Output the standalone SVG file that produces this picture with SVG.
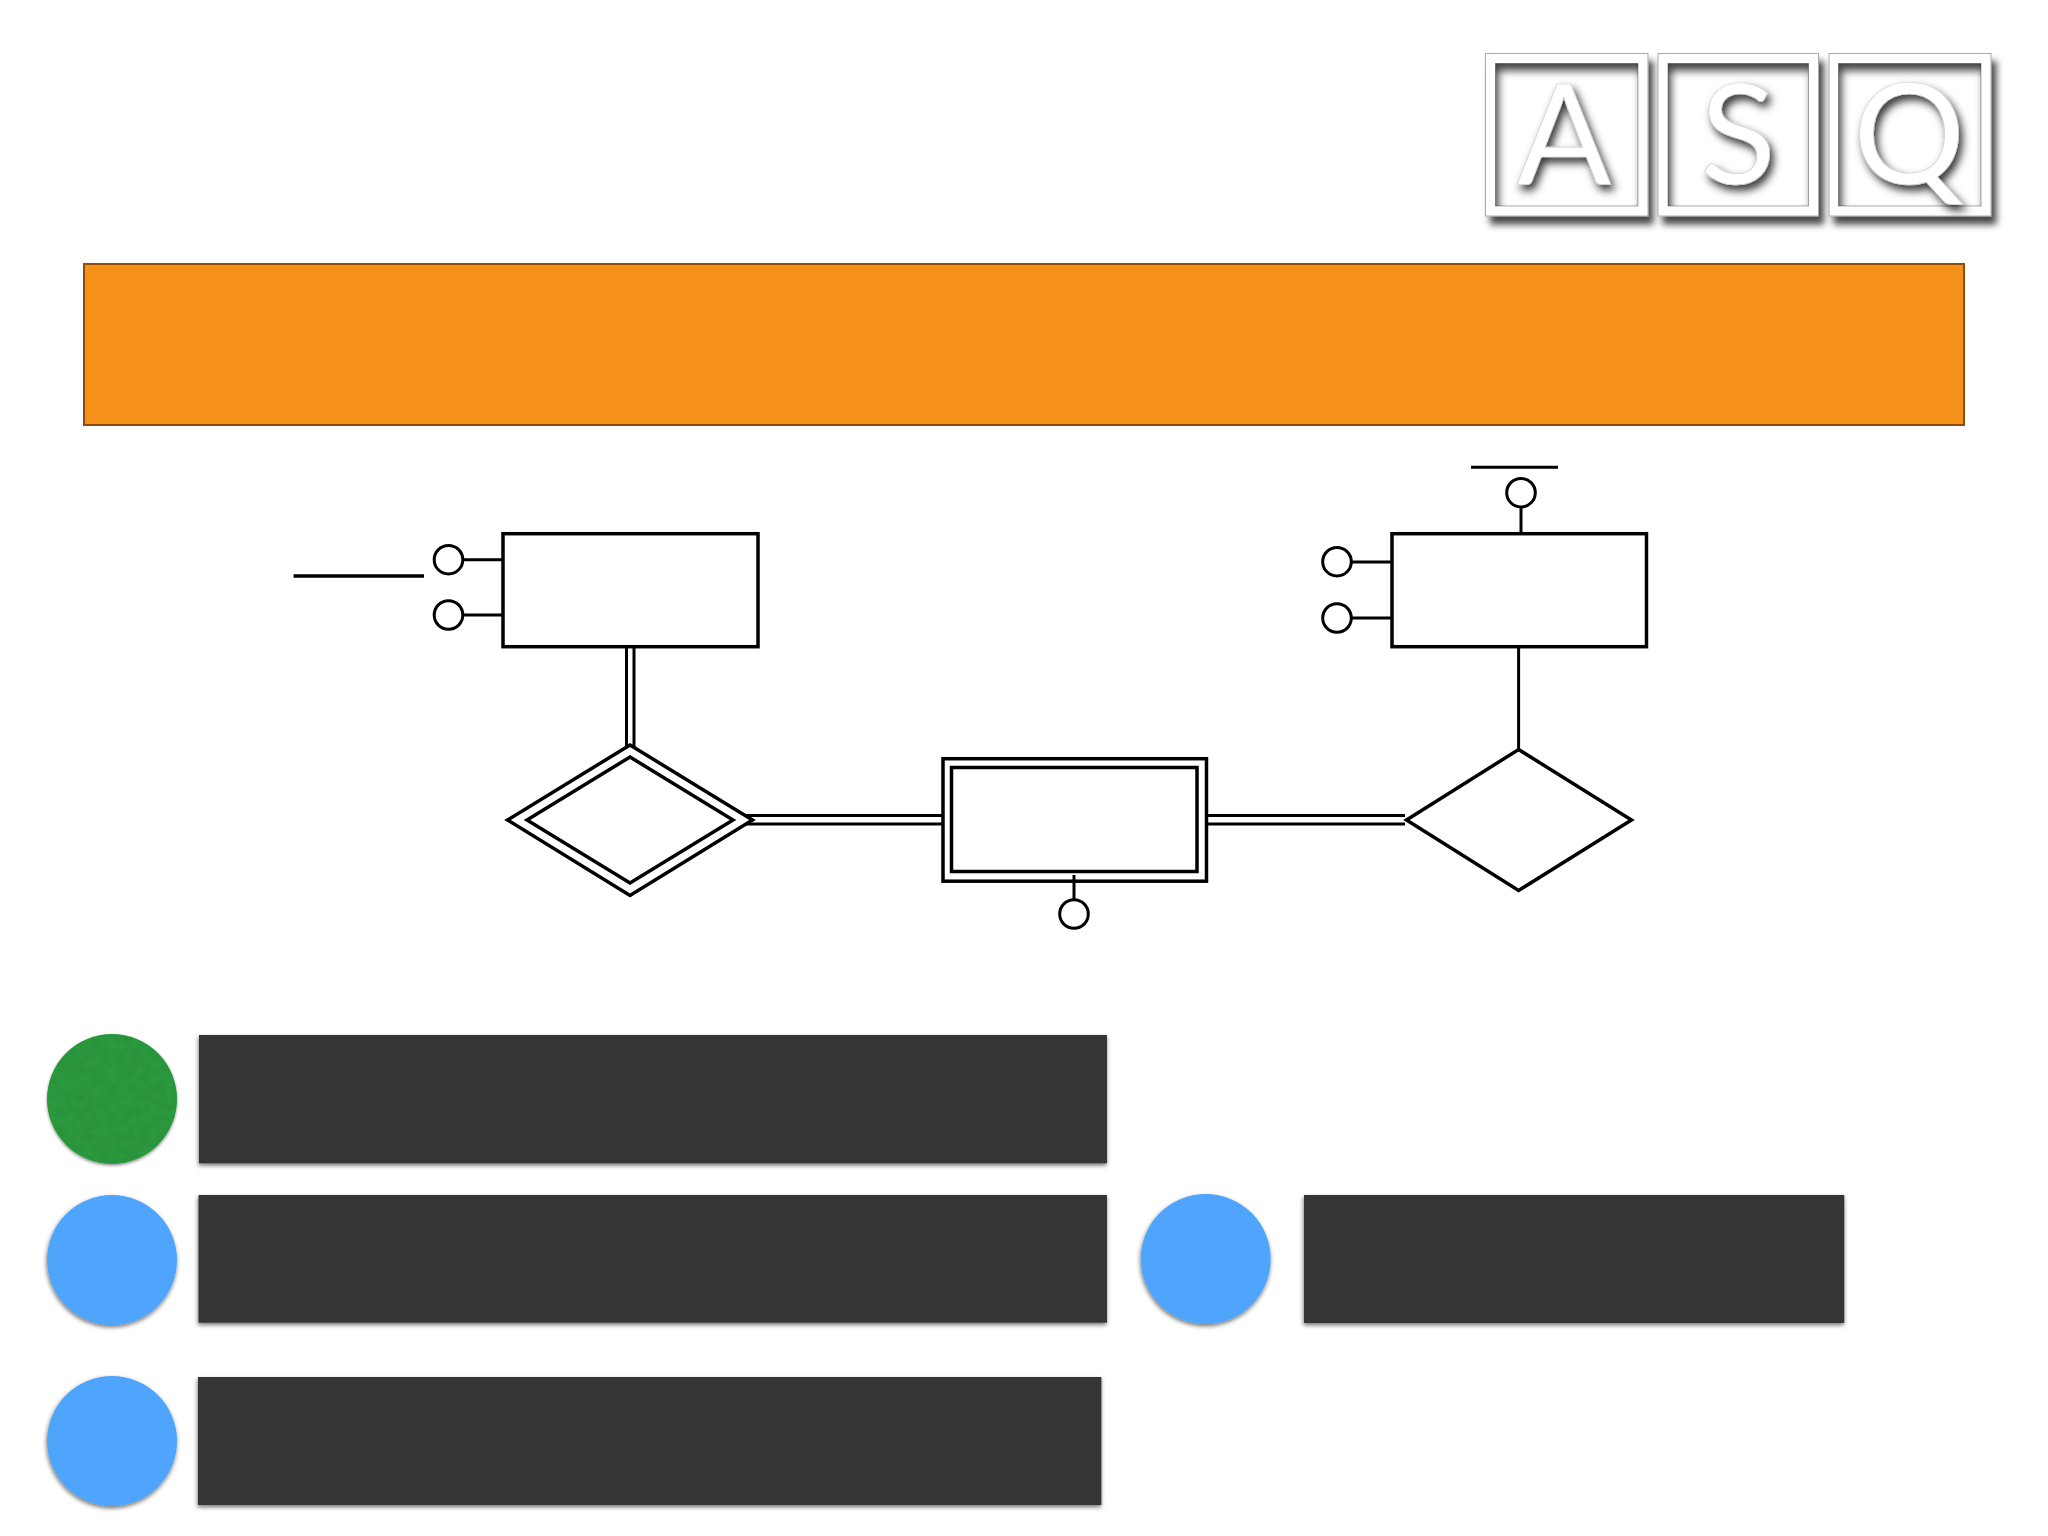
<svg xmlns="http://www.w3.org/2000/svg" width="2048" height="1536" viewBox="0 0 2048 1536">
<defs>
<style>
.er{fill:#fff;stroke:#000;stroke-width:3.5;stroke-miterlimit:10}
.attr{fill:#fff;stroke:#000;stroke-width:3}
.ln{fill:none;stroke:#000;stroke-width:3}
.bar{fill:#353535;filter:url(#soft)}
.dot{fill:#4fa5fb;filter:url(#soft)}
.frame{fill:#fff;stroke:#aaa;stroke-width:1;filter:url(#outer)}
.well{fill:#fff;stroke:#999;stroke-width:.8}
.hole{fill:#000;fill-rule:evenodd;opacity:.75;filter:url(#blur)}
.letter{font-family:Lato,"Open Sans","Liberation Sans",sans-serif;font-size:140px;fill:#fff;stroke:#ccc;stroke-width:.7;text-anchor:middle;filter:url(#glyph)}
</style>
<filter id="soft" x="-10%" y="-10%" width="120%" height="125%"><feDropShadow dx="-0.5" dy="2.2" stdDeviation="2" flood-color="#000" flood-opacity=".55"/></filter>
<filter id="outer" x="-10%" y="-10%" width="125%" height="125%"><feDropShadow dx="5" dy="8" stdDeviation="3.6" flood-color="#000" flood-opacity=".72"/></filter>
<filter id="glyph" x="-30%" y="-30%" width="170%" height="170%"><feDropShadow dx="3.5" dy="5.5" stdDeviation="4" flood-color="#000" flood-opacity=".8"/></filter>
<filter id="blur" x="-10%" y="-10%" width="120%" height="120%"><feGaussianBlur stdDeviation="4.5"/></filter>
<filter id="felt" x="-5%" y="-5%" width="110%" height="112%">
<feTurbulence type="fractalNoise" baseFrequency=".12" numOctaves="2" seed="4" result="n"/>
<feColorMatrix in="n" type="matrix" values="0 0 0 0 0  0 0 0 0 0  0 0 0 0 0  .22 0 0 0 -.06" result="d"/>
<feComposite in="d" in2="SourceAlpha" operator="in" result="tex"/>
<feDropShadow in="SourceGraphic" dx="0" dy="1.5" stdDeviation="1.8" flood-color="#000" flood-opacity=".45" result="s"/>
<feMerge><feMergeNode in="s"/><feMergeNode in="tex"/></feMerge>
</filter>
<clipPath id="cA"><rect x="1495.5" y="63.5" width="142.5" height="142.5"/></clipPath>
<clipPath id="cS"><rect x="1668" y="63.5" width="140.5" height="142.5"/></clipPath>
<clipPath id="cQ"><rect x="1838.5" y="63.5" width="142.5" height="142.5"/></clipPath>
</defs>
<rect width="2048" height="1536" fill="#fff"/>

<g id="logo">
<g id="logo-a">
<rect class="frame" x="1485.5" y="53.5" width="162.5" height="162.5"/>
<rect class="well" x="1495.5" y="63.5" width="142.5" height="142.5"/>
<g clip-path="url(#cA)"><path class="hole" transform="translate(3,7)" d="M1465 33H1668V236H1465ZM1495.5 63.5V206H1638V63.5Z"/></g>
<text class="letter" x="1564" y="184">A</text>
</g>
<g id="logo-s">
<rect class="frame" x="1658" y="53.5" width="160.5" height="162.5"/>
<rect class="well" x="1668" y="63.5" width="140.5" height="142.5"/>
<g clip-path="url(#cS)"><path class="hole" transform="translate(3,7)" d="M1638 33H1838V236H1638ZM1668 63.5V206H1808.5V63.5Z"/></g>
<text class="letter" x="1738" y="184">S</text>
</g>
<g id="logo-q">
<rect class="frame" x="1829" y="53.5" width="162" height="162.5"/>
<rect class="well" x="1838.5" y="63.5" width="142.5" height="142.5"/>
<g clip-path="url(#cQ)"><path class="hole" transform="translate(3,7)" d="M1808 33H2011V236H1808ZM1838.5 63.5V206H1981V63.5Z"/></g>
<text class="letter" x="1909" y="184">Q</text>
</g>
</g>

<g id="banner"><rect x="84" y="264" width="1880" height="161" fill="#f59018" stroke="#8f4a0c" stroke-width="2"/></g>

<g id="connectors">
<path class="ln" d="M463 559.7H502M463 615H502"/>
<path class="ln" d="M1351 562H1391M1351 618H1391"/>
<path class="ln" d="M1521 507V533"/>
<path class="ln" d="M626.5 647V748M634 647V748"/>
<path class="ln" d="M742 815.5H942" stroke-width="3.6"/>
<path class="ln" d="M742 824H942"/>
<path class="ln" d="M1208 815.5H1405M1208 824H1405" stroke-width="3.2"/>
<path class="ln" d="M1518.6 647V749"/>
<path class="ln" d="M1074 875V899"/>
</g>

<g id="rule-left"><path d="M293.5 576H424" fill="none" stroke="#000" stroke-width="3.6"/></g>
<g id="rule-right"><path d="M1471 467.3H1558" fill="none" stroke="#000" stroke-width="3"/></g>

<g id="attr-1"><circle class="attr" cx="448.5" cy="559.7" r="14.3"/></g>
<g id="attr-2"><circle class="attr" cx="448.5" cy="615" r="14.3"/></g>
<g id="attr-3"><circle class="attr" cx="1337" cy="561.7" r="14.3"/></g>
<g id="attr-4"><circle class="attr" cx="1337" cy="618" r="14.3"/></g>
<g id="attr-5"><circle class="attr" cx="1521" cy="492.7" r="14.3"/></g>
<g id="attr-6"><circle class="attr" cx="1074" cy="914" r="14.3"/></g>

<g id="entity-left"><rect class="er" x="503" y="533.7" width="255" height="113"/></g>
<g id="entity-right"><rect class="er" x="1392" y="533.7" width="254.5" height="113"/></g>

<g id="weak-relation">
<path class="er" d="M630 745L752.5 820L630 895.5L507.5 820Z"/>
<path class="er" d="M630 757L733 820L630 883L527 820Z"/>
</g>
<g id="weak-entity">
<rect class="er" x="943" y="758.7" width="263.5" height="122.5"/>
<rect class="er" x="951.5" y="767.5" width="245.5" height="104"/>
<path class="ln" d="M1074 875V881"/>
</g>
<g id="relation-right"><path class="er" d="M1518.6 749.5L1631.5 820L1518.6 890.5L1406.5 820Z" stroke-width="3"/></g>

<g id="item-1">
<circle cx="112" cy="1099" r="65" fill="#2e9a40" filter="url(#felt)"/>
<rect class="bar" x="199" y="1035" width="908" height="128.3"/>
</g>
<g id="item-2">
<circle class="dot" cx="112" cy="1260" r="65"/>
<rect class="bar" x="198.5" y="1195" width="908.5" height="127.7"/>
</g>
<g id="item-3">
<circle class="dot" cx="1205.7" cy="1259" r="65"/>
<rect class="bar" x="1304" y="1195" width="540.3" height="128"/>
</g>
<g id="item-4">
<circle class="dot" cx="112" cy="1441" r="65"/>
<rect class="bar" x="198" y="1377" width="903.4" height="128"/>
</g>
</svg>
